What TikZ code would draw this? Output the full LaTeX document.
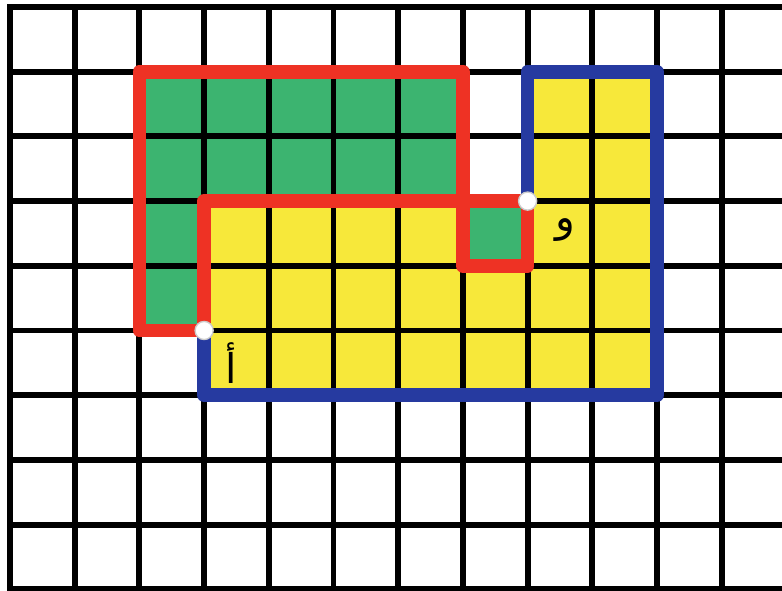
\documentclass[tikz,border=0pt]{standalone}
\usepackage{fontspec}
\newfontfamily\arabicfont[Script=Arabic]{DejaVu Sans}
\TeXXeTstate=1
\definecolor{cgreen}{RGB}{60,180,112}
\definecolor{cyellow}{RGB}{247,232,58}
\definecolor{cred}{RGB}{238,50,36}
\definecolor{cblue}{RGB}{38,58,160}
\tikzset{
  gridline/.style={line width=2.6pt, black, line cap=rect},
  redline/.style={line width=6pt, cred, line join=round, line cap=round},
  blueline/.style={line width=6pt, cblue, line join=round, line cap=round},
  dot/.style={circle, fill=white, draw=gray!40, line width=0.6pt, inner sep=0pt, minimum size=0.28cm},
  lbl/.style={font=\arabicfont\fontsize{18}{20}\selectfont, inner sep=0pt}
}
\begin{document}
\begin{tikzpicture}
\useasboundingbox (-0.155,0.108) rectangle (11.932,-9.026);
\fill[white] (-0.155,0.108) rectangle (11.932,-9.026);
% yellow region
\fill[cyellow] (8,-1) rectangle (10,-3);
\fill[cyellow] (3,-3) rectangle (10,-6);
% green region
\fill[cgreen] (2,-1) rectangle (7,-3);
\fill[cgreen] (2,-3) rectangle (3,-5);
\fill[cgreen] (7,-3) rectangle (8,-4);
% grid
\foreach \i in {0,...,11} \draw[gridline] (\i,0) -- (\i,-9);
\foreach \j in {0,...,9} \draw[gridline] (0,-\j) -- (11.95,-\j);
% points
\coordinate (A) at (3,-5);
\coordinate (W) at (8,-3);
% red outline
\draw[redline] (A) -- (2,-5) -- (2,-1) -- (7,-1) -- (7,-4) -- (8,-4) -- (W) -- (3,-3) -- (A);
% blue outline
\draw[blueline] (W) -- (8,-1) -- (10,-1) -- (10,-6) -- (3,-6) -- (A);
\node[dot] (dA) at (A) {};
\node[dot] (dW) at (W) {};
\node[lbl] (la) at (3.42,-5.51) {\beginR أ\endR};
\node[lbl] (lw) at (8.58,-3.45) {\beginR و\endR};
\end{tikzpicture}
\end{document}
